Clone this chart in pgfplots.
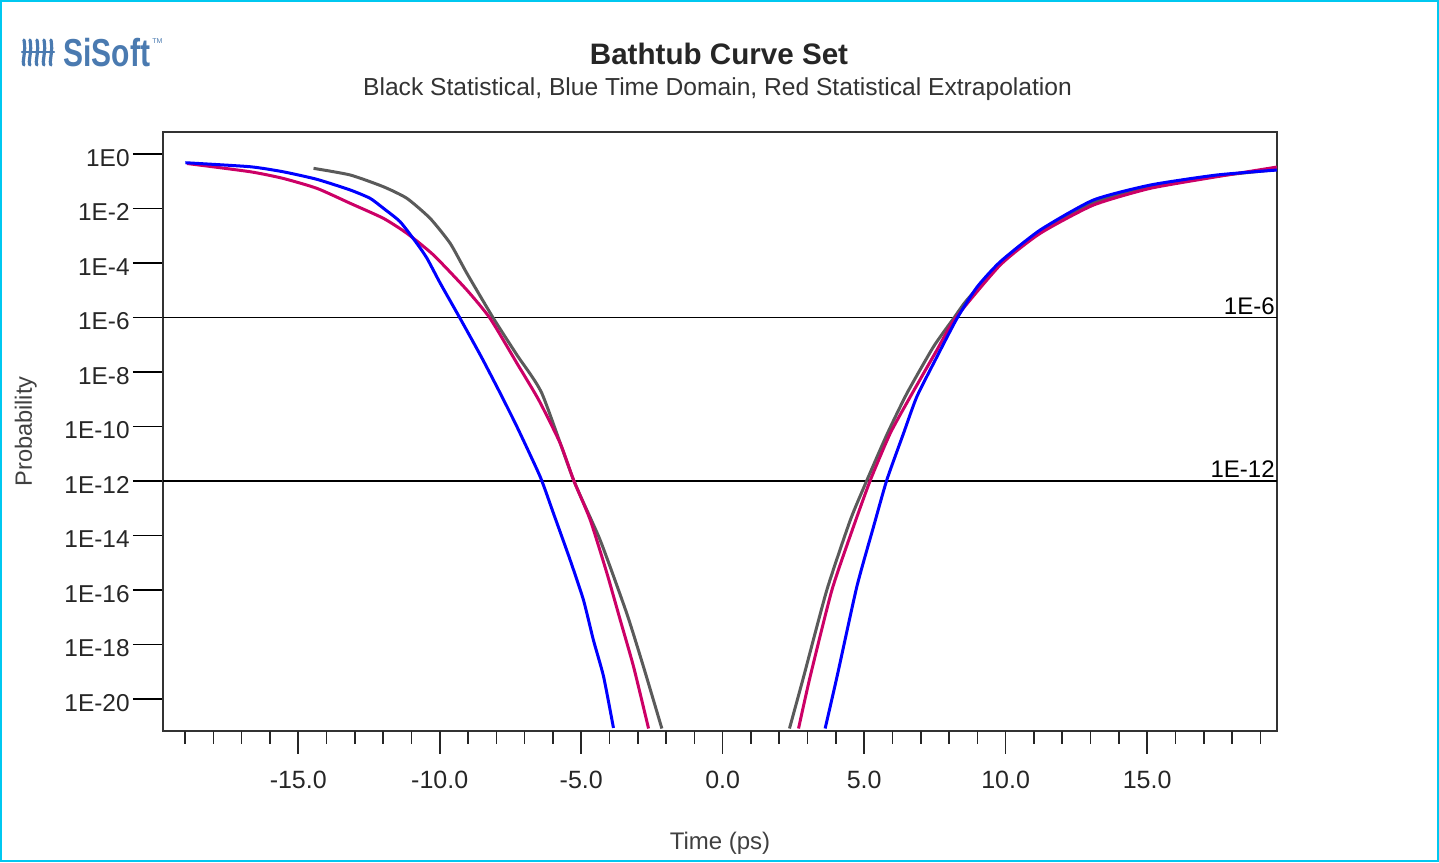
\documentclass[border=0pt]{standalone}
\usepackage{fontspec}
\setmainfont{Liberation Sans}
\usepackage{pgfplots}
\usepackage{pgfplotstable}
\pgfplotsset{compat=1.18}
\definecolor{sgray}{HTML}{5A5A5A}
\definecolor{sred}{HTML}{CC0066}
\definecolor{sblue}{HTML}{0000FF}
\definecolor{scyan}{HTML}{00C8F0}
\definecolor{slogo}{HTML}{4A7AB0}

% black = statistical, left and right branch split by a nan row
\pgfplotstableread{
x y
-14.46 0.299
-13.16 0.170
-11.99 0.0631
-11.16 0.0237
-10.34 4.37e-3
-9.63 5.28e-4
-9.04 4.19e-5
-8.10 9.3e-7
-7.27 4.2e-8
-6.39 1.65e-9
-5.27 1.09e-12
-4.33 6.8e-15
-3.39 1.39e-17
-2.80 1.54e-19
-2.15 8.3e-22
nan nan
2.36 8.3e-22
2.86 6.6e-20
3.68 1.0e-16
4.51 3.7e-14
5.10 1.09e-12
5.80 5.0e-11
6.51 1.65e-9
7.45 8.5e-8
8.16 9.3e-7
8.63 4.4e-6
9.81 9.6e-5
11.22 1.43e-3
13.10 0.0166
15.11 0.0642
17.46 0.156
19.59 0.27
}\statdata

% red = statistical extrapolation
\pgfplotstableread{
x y
-18.92 0.448
-16.70 0.224
-15.54 0.128
-14.34 0.0551
-13.16 0.0155
-11.99 4.37e-3
-11.16 1.23e-3
-10.22 1.97e-4
-9.04 1.02e-5
-8.22 9.3e-7
-7.27 2.09e-8
-6.50 9.4e-10
-5.74 2.4e-11
-5.27 1.09e-12
-4.68 3.7e-14
-4.09 4.1e-16
-3.62 7.9e-18
-3.15 1.54e-19
-2.62 8.3e-22
nan nan
2.68 8.3e-22
3.09 6.6e-20
3.86 1.0e-16
4.62 2.1e-14
5.22 1.09e-12
5.92 5.6e-11
6.63 1.24e-9
7.57 6.4e-8
8.22 9.3e-7
9.81 8.5e-5
11.22 1.23e-3
13.10 0.0134
15.11 0.0551
17.46 0.147
19.59 0.333
}\extradata

% blue = time domain
\pgfplotstableread{
x y
-18.99 0.48
-16.70 0.342
-15.54 0.224
-14.34 0.118
-13.16 0.0478
-12.46 0.0237
-12.00 0.0104
-11.40 3.28e-3
-10.81 5.28e-4
-10.45 1.49e-4
-9.98 1.80e-5
-9.28 9.3e-7
-8.53 3.6e-8
-7.86 1.65e-9
-7.27 9.8e-11
-6.45 1.44e-12
-5.98 6.5e-14
-5.39 1.26e-15
-4.92 4.3e-17
-4.57 1.47e-18
-4.21 6.7e-20
-3.86 8.7e-22
nan nan
3.62 8.3e-22
4.04 6.6e-20
4.74 1.32e-16
5.33 2.1e-14
5.80 1.09e-12
6.39 5.6e-11
6.86 1.24e-9
7.57 3.6e-8
8.28 9.3e-7
8.99 1.32e-5
9.81 1.12e-4
11.22 1.63e-3
13.10 0.0205
15.11 0.0728
17.46 0.170
19.59 0.259
}\timedata

\begin{document}
\begin{tikzpicture}
\useasboundingbox (0,0) rectangle (719.5pt,431pt);
\draw[scyan, line width=1pt] (0.5pt,0.5pt) rectangle (719pt,430.5pt);

% logo
\begin{scope}[slogo, line width=1.6pt, line cap=round]
  \foreach \xx in {12,15,18.5,22,25.5} {
    \draw (\xx pt,411pt) .. controls (\xx pt+1.2pt,405pt) and (\xx pt-1.2pt,400pt) .. (\xx pt,398.5pt);
  }
  \draw[line width=1.2pt] (11pt,405pt) -- (27pt,405pt);
\end{scope}
\node[anchor=base west, inner sep=0pt, text=slogo] at (31.5pt,397.7pt)
  {\scalebox{1}[1.3]{\bfseries\fontsize{15}{15}\selectfont SiSoft}};
\node[anchor=base west, inner sep=0pt, text=slogo, font=\fontsize{3.5}{4}\selectfont] at (76pt,409pt) {TM};

% titles
\node[anchor=base, inner sep=0pt, text=black!85, font=\bfseries\fontsize{14.8}{17}\selectfont] at (359.5pt,398.5pt) {Bathtub Curve Set};
\node[anchor=base, inner sep=0pt, text=black!80, font=\fontsize{12.3}{14}\selectfont] at (358.75pt,383.2pt) {Black Statistical, Blue Time Domain, Red Statistical Extrapolation};
\node[anchor=base, inner sep=0pt, rotate=90, text=black!75, font=\fontsize{11.8}{14}\selectfont] at (15.9pt,215.25pt) {Probability};
\node[anchor=base, inner sep=0pt, text=black!75, font=\fontsize{12}{14}\selectfont] at (360pt,6.3pt) {Time (ps)};

\begin{axis}[
  at={(81.5pt,65.65pt)}, anchor=south west,
  width=557pt, height=299.5pt, scale only axis,
  ymode=log,
  xmin=-19.78, xmax=19.59,
  ymin=6.9e-22, ymax=6.6,
  xtick=\empty,
  ytick={1,1e-2,1e-4,1e-6,1e-8,1e-10,1e-12,1e-14,1e-16,1e-18,1e-20},
  yticklabels={1E0,1E-2,1E-4,1E-6,1E-8,1E-10,1E-12,1E-14,1E-16,1E-18,1E-20},
  ytick pos=left,
  tick align=outside,
  major tick length=15pt,
  ytick style={black, line width=0.75pt},
  yticklabel style={font=\fontsize{12.2}{14}\selectfont, text=black!85, inner sep=0pt, xshift=-1.5pt, yshift=-1.8pt},
  axis line style={black!80, line width=1pt},
  unbounded coords=jump,
  clip=true,
]
\addplot[black, line width=0.8pt] coordinates {(-19.78,1e-6) (19.59,1e-6)};
\addplot[black, line width=0.8pt] coordinates {(-19.78,1e-12) (19.59,1e-12)};
\addplot[sgray, line width=1.5pt, smooth, tension=0.35] table[x=x, y=y] {\statdata};
\addplot[sred, line width=1.5pt, smooth, tension=0.35] table[x=x, y=y] {\extradata};
\addplot[sblue, line width=1.5pt, smooth, tension=0.35] table[x=x, y=y] {\timedata};
\node[anchor=base east, inner sep=0pt, font=\fontsize{12}{14}\selectfont] at ([xshift=-1pt, yshift=1.6pt]axis cs:19.59,1e-6) {1E-6};
\node[anchor=base east, inner sep=0pt, font=\fontsize{12}{14}\selectfont] at ([xshift=-1pt, yshift=1.6pt]axis cs:19.59,1e-12) {1E-12};
\end{axis}

% x ticks: minor every 1 ps, major every 5 ps
\begin{axis}[
  at={(81.5pt,65.65pt)}, anchor=south west,
  width=557pt, height=299.5pt, scale only axis,
  xmin=-19.78, xmax=19.59, ymin=0, ymax=1,
  hide y axis,
  axis line style={draw=none},
  xtick pos=bottom,
  xtick={-15,-10,-5,0,5,10,15},
  xticklabels={-15.0,-10.0,-5.0,0.0,5.0,10.0,15.0},
  minor xtick={-19,-18,-17,-16,-14,-13,-12,-11,-9,-8,-7,-6,-4,-3,-2,-1,1,2,3,4,6,7,8,9,11,12,13,14,16,17,18,19},
  xtick align=outside,
  major tick length=11.5pt,
  minor tick length=6.5pt,
  xtick style={black!85, line width=0.8pt},
  xticklabel style={font=\fontsize{12.5}{14}\selectfont, text=black!85, yshift=-5pt},
]
\end{axis}
\end{tikzpicture}
\end{document}
